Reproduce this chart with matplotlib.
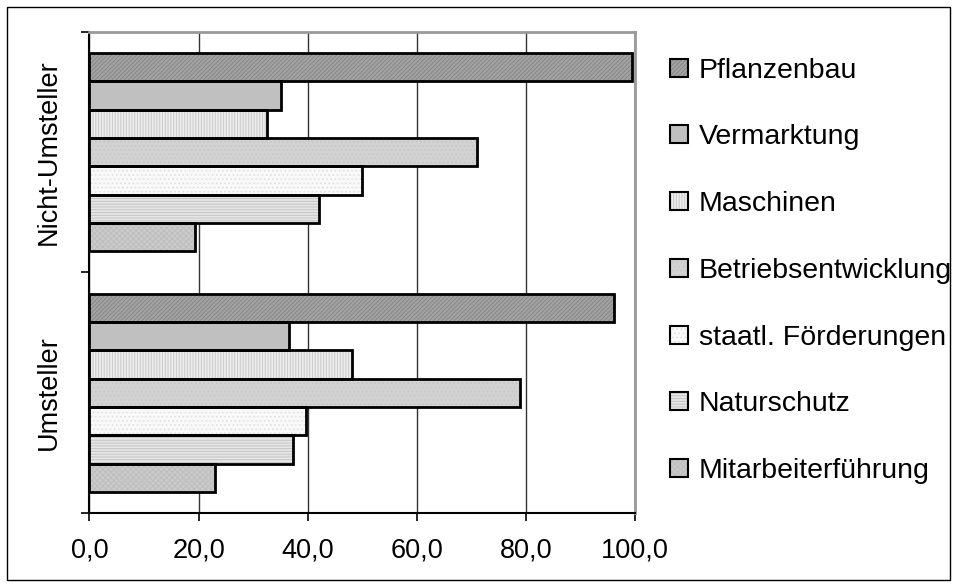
import matplotlib
matplotlib.use("Agg")
import numpy as np
import matplotlib.pyplot as plt
from matplotlib.patches import Patch, Rectangle

plt.rcParams["font.family"] = ["Liberation Sans", "DejaVu Sans"]
plt.rcParams["hatch.linewidth"] = 0.7

groups = ["Umsteller", "Nicht-Umsteller"]
topics = [
    "Pflanzenbau",
    "Vermarktung",
    "Maschinen",
    "Betriebsentwicklung",
    "staatl. Förderungen",
    "Naturschutz",
    "Mitarbeiterführung",
]
umsteller = [96.1, 36.6, 48.1, 79.0, 39.7, 37.4, 23.0]
nicht_umsteller = [99.5, 35.2, 32.6, 71.0, 50.0, 42.1, 19.4]
x_ticks = [0, 20, 40, 60, 80, 100]
x_labels = ["0,0", "20,0", "40,0", "60,0", "80,0", "100,0"]

# fill colour, hatch, hatch colour for each topic (grey-scale print styles)
styles = [
    ("#a4a4a4", "////////", "#858585"),
    ("#c0c0c0", "", "#c0c0c0"),
    ("#ececec", "||||||", "#cacaca"),
    ("#d2d2d2", "....", "#c6c6c6"),
    ("#f9f9f9", "....", "#e0e0e0"),
    ("#e6e6e6", "------", "#c4c4c4"),
    ("#cbcbcb", "xxxxxx", "#bdbdbd"),
]

fig = plt.figure(figsize=(9.58, 5.87), dpi=100)
ax = fig.add_axes([0.0934, 0.1261, 0.5694, 0.8194])

n = len(topics)
h = 0.824 / n
centers = np.array([0.5, 1.5])
values = np.array([umsteller, nicht_umsteller])

handles = []
for i, (topic, (fc, hatch, hc)) in enumerate(zip(topics, styles)):
    y = centers + (3 - i) * h
    ax.barh(y, values[:, i], height=h, color=fc, hatch=hatch,
            edgecolor=hc, linewidth=0, zorder=3)
    ax.barh(y, values[:, i], height=h, fill=False,
            edgecolor="black", linewidth=2, zorder=4)
    handles.append((Patch(facecolor=fc, hatch=hatch, edgecolor=hc, linewidth=0),
                    Patch(fill=False, edgecolor="black", linewidth=1.5)))

ax.set_xlim(0, 100)
ax.set_ylim(0, 2)
ax.set_xticks(x_ticks)
ax.set_xticklabels(x_labels, fontsize=19.5)
ax.tick_params(axis="x", direction="out", length=6, width=1.2, pad=12)

ax.set_yticks([0, 1, 2])
ax.set_yticklabels([])
ax.set_yticks(centers, minor=True)
ax.set_yticklabels(groups, minor=True, rotation=90, va="center", fontsize=19.5)
ax.tick_params(axis="y", which="major", direction="out", length=6, width=1.2)
ax.tick_params(axis="y", which="minor", length=0, pad=20)

ax.grid(axis="x", color="#333333", linewidth=1, zorder=0)
for side in ["left", "bottom"]:
    ax.spines[side].set_color("black")
    ax.spines[side].set_linewidth(1.5)
for side in ["top", "right"]:
    ax.spines[side].set_color("#999999")
    ax.spines[side].set_linewidth(2)

ax.legend(handles, topics, loc="upper left", bbox_to_anchor=(0.688, 0.921),
          bbox_transform=fig.transFigure, frameon=False, fontsize=20.5,
          handlelength=0.6, handleheight=0.6, handletextpad=0.4,
          labelspacing=1.43, borderaxespad=0)

fig.patches.append(Rectangle((7 / 958, 7 / 587), 943 / 958, 573 / 587,
                             transform=fig.transFigure, fill=False,
                             edgecolor="black", linewidth=1))

fig.savefig("out.png", dpi=100)
